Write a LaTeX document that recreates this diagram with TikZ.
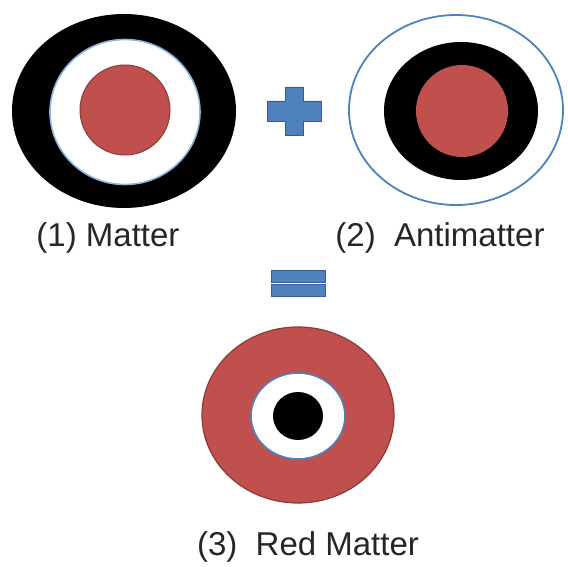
\documentclass[tikz,border=0pt]{standalone}
\usepackage{fontspec}
\setmainfont{Liberation Sans}
\usetikzlibrary{shapes.geometric}
\definecolor{redfill}{HTML}{C0504D}
\definecolor{redline}{HTML}{8C3A38}
\definecolor{bluefill}{HTML}{4F81BD}
\definecolor{blueline}{HTML}{385D8A}
\definecolor{paleblue}{HTML}{8EB4E3}
\begin{document}
\begin{tikzpicture}[x=1pt,y=-1pt,
  disc/.style={ellipse, inner sep=0pt, outer sep=0pt},
  caption/.style={anchor=base, inner sep=0pt, font=\fontsize{33}{38}\selectfont, text=black!85},
  bar/.style={rectangle, inner sep=0pt, fill=bluefill, draw=blueline, line width=0.8pt,
              minimum width=54pt, minimum height=12pt}]
  \useasboundingbox[fill=white] (0,0) rectangle (568,567);

  % (1) Matter: black outside, white ring, red core
  \node[disc, fill=black, minimum width=224pt, minimum height=194pt] (mOuter) at (124,111) {};
  \node[disc, fill=white, draw=paleblue, line width=1.6pt, minimum width=150pt, minimum height=145pt] (mRing) at (125,112) {};
  \node[disc, fill=redfill, draw=redline, line width=1pt, minimum width=90pt, minimum height=90pt] (mCore) at (125,110) {};
  \node[caption] (mLabel) at (108,246) {(1) Matter};

  % plus sign
  \coordinate (plus) at (294,111);
  \filldraw[fill=bluefill, draw=blueline, line width=0.8pt]
    ([shift={(-9,-24)}]plus) -- ([shift={(9,-24)}]plus) -- ([shift={(9,-10)}]plus)
    -- ([shift={(27,-10)}]plus) -- ([shift={(27,10)}]plus) -- ([shift={(9,10)}]plus)
    -- ([shift={(9,24)}]plus) -- ([shift={(-9,24)}]plus) -- ([shift={(-9,10)}]plus)
    -- ([shift={(-27,10)}]plus) -- ([shift={(-27,-10)}]plus) -- ([shift={(-9,-10)}]plus) -- cycle;

  % (2) Antimatter: white outside with blue rim, black ring, red core
  \node[disc, fill=white, draw=bluefill, line width=1.8pt, minimum width=214pt, minimum height=190pt] (aOuter) at (456,110) {};
  \node[disc, fill=black, minimum width=154pt, minimum height=138pt] (aRing) at (461,111) {};
  \node[disc, fill=redfill, minimum width=92pt, minimum height=92pt] (aCore) at (462,111) {};
  \node[caption] (aLabel) at (440,246) {(2)\ \ Antimatter};

  % equals sign
  \node[bar] (eqTop) at (298,276.5) {};
  \node[bar] (eqBot) at (298,290.5) {};

  % (3) Red Matter: red outside, white ring, black core
  \node[disc, fill=redfill, draw=redline, line width=1.2pt, minimum width=192pt, minimum height=176pt] (rOuter) at (298,415) {};
  \node[disc, fill=white, draw=bluefill, line width=1.6pt, minimum width=94pt, minimum height=86pt] (rRing) at (298,416) {};
  \node[disc, fill=black, minimum width=50pt, minimum height=48pt] (rCore) at (298,416) {};
  \node[caption] (rLabel) at (308,555) {(3)\ \ Red Matter};
\end{tikzpicture}
\end{document}
